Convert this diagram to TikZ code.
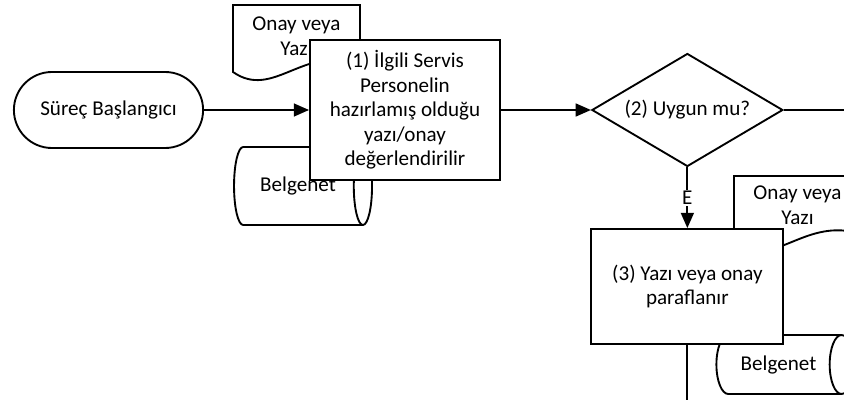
\documentclass[tikz,border=0pt]{standalone}
\usepackage{fontspec}
\setmainfont{Carlito}
\usetikzlibrary{positioning, arrows.meta, shapes.geometric, shapes.misc}

\begin{document}
\begin{tikzpicture}[
    x=0.03cm, y=-0.03cm,
    font=\fontsize{18}{21}\selectfont,
    line width=1.6pt,
    myprocess/.style={draw, fill=white, minimum width=5.7cm, minimum height=4.2cm, align=center, inner sep=2pt},
    mystart/.style={draw, rounded rectangle, minimum width=5.91cm, minimum height=2.28cm},
    mydecision/.style={draw, diamond, aspect=1.7, fill=white, minimum width=5.73cm, minimum height=3.39cm, inner sep=0pt},
    mystore/.style={draw, cylinder, fill=white, inner sep=0pt},
    mydoc/.style={draw, fill=white},
    myarrow/.style={-{Triangle[length=13pt, width=11pt]}},
    mylabel/.style={midway, fill=white, inner sep=1pt}
]
  \clip (0,0) rectangle (844,400);

  % Documents and stores
  \draw[mydoc, shift={(233,5)}] (0,67) -- (0,0) -- (127,0) -- (127,58)
    .. controls (70,40) and (40,95) .. (0,67) -- cycle;
  \node[align=center] (docA) at (296.5,36) {Onay veya\\Yazı};
  \draw[mydoc, shift={(734,176)}] (0,67) -- (0,0) -- (127,0) -- (127,58)
    .. controls (70,40) and (40,95) .. (0,67) -- cycle;
  \node[align=center] (docB) at (797.5,205) {Onay veya\\Yazı};

  \node[mystore, aspect=1, minimum height=4.14cm, minimum width=2.34cm] (storeA) at (298,186) {Belgenet};
  \node[mystore, aspect=1.3, minimum height=4.11cm, minimum width=1.77cm] (storeB) at (778.5,364.5) {Belgenet};

  % Nodes
  \node[mystart] (start) at (108.5,110) {Süreç Başlangıcı};
  \node[myprocess, right=3.15cm of start] (review) {(1) İlgili Servis\\Personelin\\hazırlamış olduğu\\yazı/onay\\değerlendirilir};
  \node[mydecision, right=2.7cm of review] (check) {(2) Uygun mu?};
  \node[myprocess, minimum width=5.76cm, minimum height=3.45cm, below=1.82cm of check] (initial) {(3) Yazı veya onay\\paraflanır};

  \path (check.east) ++(70,0) coordinate (exitR);
  \path (initial.south) ++(0,70) coordinate (exitB);

  % Arrows
  \draw[myarrow] (start) -- (review);
  \draw[myarrow] (review) -- (check);
  \draw (check.east) -- (exitR);
  \draw[myarrow] (check.south) -- (initial.north) node[mylabel] {E};
  \draw (initial.south) -- (exitB);

\end{tikzpicture}
\end{document}
